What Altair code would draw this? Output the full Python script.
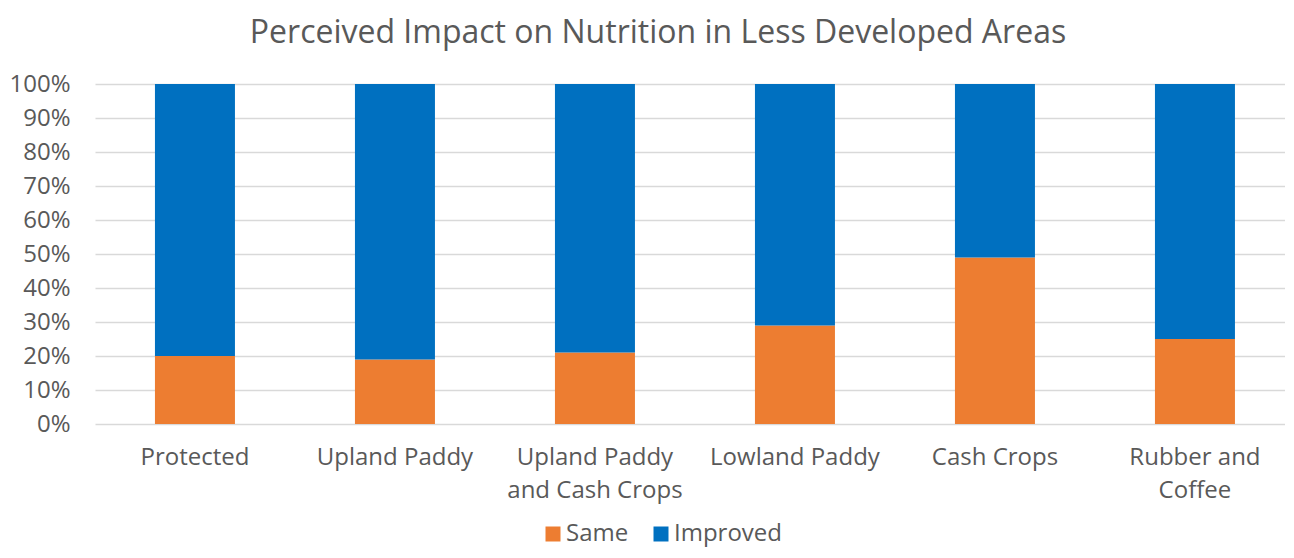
import altair as alt
import pandas as pd

categories = ["Protected", "Upland Paddy", "Upland Paddy and Cash Crops",
              "Lowland Paddy", "Cash Crops", "Rubber and Coffee"]
same = [0.20, 0.19, 0.21, 0.29, 0.49, 0.25]
improved = [0.80, 0.81, 0.79, 0.71, 0.51, 0.75]
series = ["Same", "Improved"]
colors = ["#ED7D31", "#0070C0"]
wrapped = {
    "Upland Paddy and Cash Crops": ["Upland Paddy", "and Cash Crops"],
    "Rubber and Coffee": ["Rubber and", "Coffee"],
}

rows = []
for c, s, i in zip(categories, same, improved):
    rows.append({"Category": c, "Series": "Same", "Value": s, "ord": 0})
    rows.append({"Category": c, "Series": "Improved", "Value": i, "ord": 1})
df = pd.DataFrame(rows)

expr = "datum.value"
for k, v in wrapped.items():
    expr = f"datum.value == '{k}' ? ['{v[0]}', '{v[1]}'] : ({expr})"

FONT = "Open Sans"
GRAY = "#595959"

chart = alt.Chart(df).mark_bar(size=80).encode(
    x=alt.X("Category:N", sort=categories, title=None,
            scale=alt.Scale(paddingInner=0.6, paddingOuter=0.275, align=0.545),
            axis=alt.Axis(labelAngle=0, labelExpr=expr, labelFontSize=24,
                          labelColor=GRAY, labelFont=FONT, ticks=False,
                          domain=False, labelPadding=21, labelLineHeight=33,
                          labelBaseline="top")),
    y=alt.Y("Value:Q", stack="zero", title=None,
            scale=alt.Scale(domain=[0, 1], nice=False),
            axis=alt.Axis(format="%", values=[i / 10 for i in range(11)],
                          labelFontSize=24, labelColor=GRAY, labelFont=FONT,
                          ticks=False, domain=False, gridColor="#D9D9D9",
                          gridWidth=1.5, labelPadding=25)),
    color=alt.Color("Series:N", scale=alt.Scale(domain=series, range=colors),
                    legend=alt.Legend(title=None, orient="none", direction="horizontal",
                                      legendX=446, legendY=438, symbolType="square",
                                      symbolSize=225, labelFontSize=24, labelColor=GRAY,
                                      labelFont=FONT, columnPadding=20, symbolStrokeWidth=0,
                                      labelOffset=1, padding=0)),
    order=alt.Order("ord:Q"),
).properties(
    width=1190, height=340,
    title=alt.TitleParams("Perceived Impact on Nutrition in Less Developed Areas",
                          fontSize=32, font=FONT, fontWeight="normal", color=GRAY,
                          anchor="middle", dx=-32, offset=22),
    autosize=alt.AutoSizeParams(type="none"),
    padding={"left": 87, "top": 76, "right": 0, "bottom": 126},
).configure_view(stroke=None)

chart.save("out.html", embed_options={"renderer": "svg", "actions": False})
